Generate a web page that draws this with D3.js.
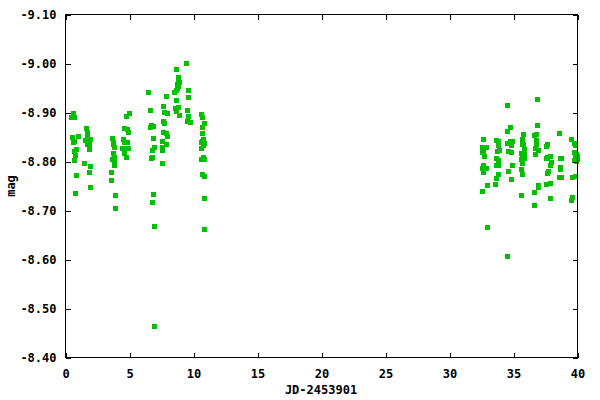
<!DOCTYPE html>
<html><head><meta charset="utf-8">
<script src="https://cdn.jsdelivr.net/npm/d3@7"></script>
<style>
html,body{margin:0;padding:0;background:#fff;}
svg text{font-family:"DejaVu Sans Mono",monospace;font-weight:bold;font-size:12px;fill:#000;}
</style></head>
<body><svg id="c" width="600" height="400"></svg>
<script>
const xTicks = [0,5,10,15,20,25,30,35,40];
const yTicks = [-9.10,-9.00,-8.90,-8.80,-8.70,-8.60,-8.50,-8.40];
const xLabel = "JD-2453901";
const yLabel = "mag";

// observation epochs (JD-2453901)
const jd = [
 0.547,0.422,0.703,0.469,0.938,0.703,0.578,0.859,0.656,0.781,0.625,0.859,0.781,
 1.563,1.695,1.641,1.516,1.875,1.695,1.828,1.797,1.484,1.875,1.797,1.875,
 3.594,3.703,3.672,3.828,3.727,3.750,3.594,3.828,3.750,3.516,3.516,3.906,3.906,
 4.922,4.688,4.609,4.766,4.844,4.531,4.609,4.766,4.453,4.688,4.844,4.609,4.688,
 6.484,6.563,6.641,6.563,6.797,6.797,6.875,6.719,6.719,6.641,6.797,6.719,6.875,6.875,
 7.813,7.656,7.734,7.891,7.656,7.734,7.656,7.813,7.891,7.578,7.813,7.500,7.578,7.500,
 9.453,8.594,8.828,8.750,8.906,8.672,8.750,8.672,8.594,8.438,8.594,8.516,8.828,8.594,8.906,
 9.609,9.609,9.531,9.609,9.531,9.688,
 10.547,10.703,10.859,10.703,10.625,10.781,10.625,10.547,10.859,10.781,10.547,10.547,10.781,10.859,10.703,10.859,10.859,10.859,
 32.656,32.578,32.813,32.656,32.578,32.734,32.656,32.578,32.813,32.656,32.891,32.500,32.891,
 33.594,33.828,33.672,33.906,33.750,33.594,33.750,33.594,33.750,33.750,33.594,33.516,
 34.531,34.688,34.531,34.688,34.844,34.531,34.766,34.609,34.766,34.844,34.609,34.766,34.531,
 35.781,35.625,35.781,35.625,35.859,35.547,35.859,35.703,35.547,35.859,35.703,35.547,35.625,35.547,
 36.797,36.797,36.563,36.719,36.719,36.719,36.641,36.875,36.641,36.875,36.875,36.563,36.563,
 37.656,37.500,37.813,37.578,37.656,37.891,37.813,37.734,37.656,37.813,37.578,37.813,
 38.516,38.594,38.672,38.594,38.594,38.516,38.672,
 39.531,39.688,39.766,39.688,39.844,39.766,39.922,39.688,39.844,39.922,39.609,39.766,39.609,39.531
];
// magnitudes
const mag = [
 -8.899,-8.891,-8.891,-8.851,-8.852,-8.841,-8.839,-8.825,-8.821,-8.814,-8.803,-8.773,-8.736,
 -8.869,-8.860,-8.854,-8.844,-8.846,-8.836,-8.836,-8.826,-8.797,-8.790,-8.779,-8.748,
 -8.848,-8.839,-8.835,-8.829,-8.817,-8.809,-8.806,-8.802,-8.793,-8.778,-8.763,-8.732,-8.706,
 -8.899,-8.893,-8.869,-8.867,-8.861,-8.846,-8.840,-8.840,-8.828,-8.828,-8.828,-8.818,-8.810,
 -8.942,-8.906,-8.875,-8.871,-8.873,-8.848,-8.830,-8.824,-8.810,-8.808,-8.734,-8.718,-8.669,-8.465,
 -8.934,-8.914,-8.901,-8.899,-8.883,-8.879,-8.861,-8.859,-8.852,-8.842,-8.836,-8.830,-8.824,-8.797,
 -9.001,-8.989,-8.973,-8.967,-8.963,-8.959,-8.954,-8.950,-8.946,-8.942,-8.926,-8.910,-8.912,-8.903,-8.895,
 -8.946,-8.932,-8.906,-8.893,-8.883,-8.881,
 -8.897,-8.891,-8.879,-8.871,-8.859,-8.846,-8.842,-8.840,-8.838,-8.834,-8.828,-8.806,-8.810,-8.806,-8.775,-8.771,-8.726,-8.663,
 -8.846,-8.830,-8.830,-8.822,-8.820,-8.812,-8.793,-8.787,-8.787,-8.779,-8.752,-8.740,-8.667,
 -8.844,-8.842,-8.822,-8.824,-8.834,-8.808,-8.803,-8.793,-8.793,-8.775,-8.767,-8.754,
 -8.916,-8.871,-8.863,-8.842,-8.842,-8.838,-8.834,-8.822,-8.820,-8.793,-8.781,-8.765,-8.608,
 -8.857,-8.846,-8.836,-8.836,-8.826,-8.818,-8.816,-8.808,-8.806,-8.808,-8.797,-8.785,-8.775,-8.732,
 -8.928,-8.875,-8.854,-8.857,-8.844,-8.836,-8.828,-8.824,-8.816,-8.752,-8.748,-8.738,-8.712,
 -8.836,-8.832,-8.812,-8.808,-8.810,-8.799,-8.793,-8.781,-8.777,-8.757,-8.755,-8.726,
 -8.859,-8.808,-8.808,-8.789,-8.785,-8.769,-8.769,
 -8.846,-8.838,-8.834,-8.820,-8.816,-8.810,-8.806,-8.803,-8.801,-8.812,-8.769,-8.771,-8.728,-8.722
];

const svg = d3.select("#c");
const L = 65.5, R = 577.5, T = 14.5, B = 357.5;
const x = d3.scaleLinear().domain([0,40]).range([L,R]);
const y = d3.scaleLinear().domain([-9.10,-8.40]).range([T,B]);
const tl = 5;

// points (behind axes)
const data = jd.map((d,i)=>({x:d,y:mag[i]}));
svg.append("g").selectAll("rect").data(data).enter().append("rect")
  .attr("x",d=>Math.round(x(d.x))-2.5+0.5)
  .attr("y",d=>Math.round(y(d.y))-2.5+0.5)
  .attr("width",5).attr("height",5)
  .attr("fill","#00c000");

// axes
const fmtY = d3.format(".2f");
const gL = svg.append("g").attr("transform",`translate(${L},0)`)
  .call(d3.axisLeft(y).tickValues(yTicks).tickSizeInner(-tl).tickSizeOuter(0).tickPadding(9).tickFormat(d=>fmtY(d).replace("−","-")));
const gR = svg.append("g").attr("transform",`translate(${R},0)`)
  .call(d3.axisRight(y).tickValues(yTicks).tickSizeInner(-tl).tickSizeOuter(0).tickFormat(""));
const gB = svg.append("g").attr("transform",`translate(0,${B})`)
  .call(d3.axisBottom(x).tickValues(xTicks).tickSizeInner(-tl).tickSizeOuter(0).tickPadding(12).tickFormat(d3.format("d")));
const gT = svg.append("g").attr("transform",`translate(0,${T})`)
  .call(d3.axisTop(x).tickValues(xTicks).tickSizeInner(-tl).tickSizeOuter(0).tickFormat(""));
[gL,gR,gB,gT].forEach(g=>{
  g.selectAll("path,line").attr("stroke","#000").attr("stroke-width",1).attr("shape-rendering","crispEdges");
  g.selectAll("text").attr("font-family",null).attr("font-size",null).style("fill","#000");
});
gL.selectAll(".domain").remove();gR.selectAll(".domain").remove();gB.selectAll(".domain").remove();gT.selectAll(".domain").remove();
svg.append("rect").attr("x",L).attr("y",T).attr("width",R-L).attr("height",B-T)
  .attr("fill","none").attr("stroke","#000").attr("stroke-width",1).attr("shape-rendering","crispEdges");

svg.append("text").attr("x",321).attr("y",394).attr("text-anchor","middle").text(xLabel);
svg.append("text").attr("transform","translate(15,186) rotate(-90)").attr("text-anchor","middle").text(yLabel);
</script></body></html>
